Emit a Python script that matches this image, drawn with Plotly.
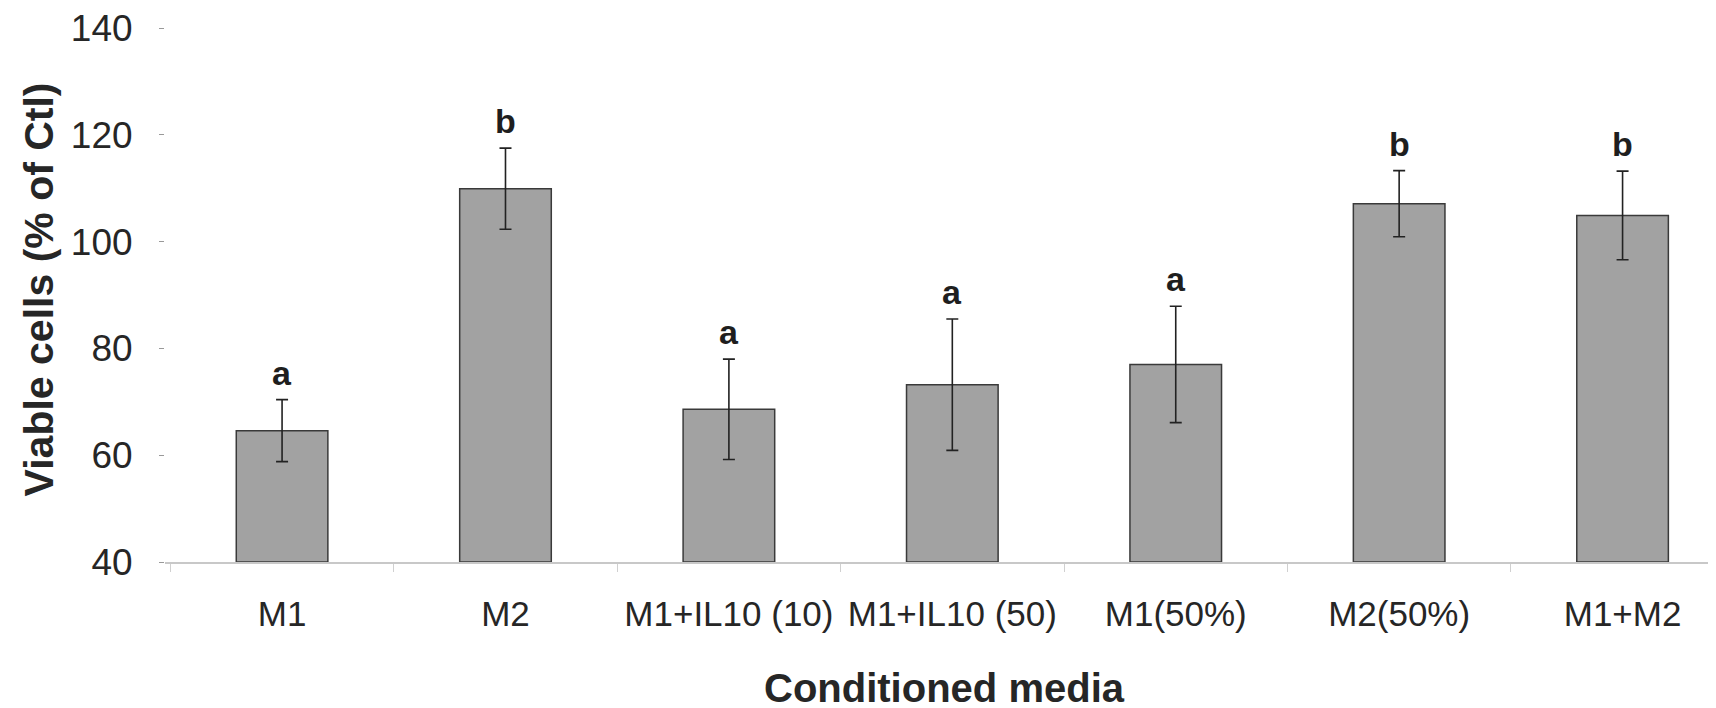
import plotly.graph_objects as go

categories = ["M1", "M2", "M1+IL10 (10)", "M1+IL10 (50)", "M1(50%)", "M2(50%)", "M1+M2"]
values = [64.6, 109.9, 68.6, 73.2, 77.0, 107.1, 104.9]
errors = [5.8, 7.6, 9.4, 12.3, 10.9, 6.2, 8.3]
letters = ["a", "b", "a", "a", "a", "b", "b"]
y_ticks = [40, 60, 80, 100, 120, 140]

fig = go.Figure()
fig.add_trace(go.Bar(
    x=categories, y=[v - 40 for v in values], base=40,
    marker=dict(color="#a2a2a2", line=dict(color="#3a3a3a", width=1.5)),
    error_y=dict(type="data", array=errors, visible=True, color="#222222", thickness=1.6, width=6),
    width=0.41, showlegend=False,
))
# carrier for the labelled left axis
fig.add_trace(go.Scatter(x=[categories[0]], y=[40], yaxis="y2", mode="markers",
                         marker=dict(opacity=0), hoverinfo="skip", showlegend=False))

for c, v, e, l in zip(categories, values, errors, letters):
    fig.add_annotation(x=c, y=v + e, text=l, showarrow=False, yanchor="bottom", yshift=6,
                       font=dict(family="Liberation Sans, Arial", size=34, color="#1e1e1e", weight="bold"))

fig.add_annotation(xref="paper", yref="paper", x=0.5, y=-0.236, xanchor="center", yanchor="middle",
                   text="Conditioned media", showarrow=False,
                   font=dict(family="Liberation Sans, Arial", size=40, color="#262626", weight="bold"))
fig.add_annotation(xref="paper", yref="paper", x=-0.081, y=0.51, xanchor="center", yanchor="middle",
                   text="Viable cells (% of Ctl)", textangle=-90, showarrow=False,
                   font=dict(family="Liberation Sans, Arial", size=41, color="#262626", weight="bold"))

fig.update_layout(
    width=1716, height=708,
    margin=dict(l=157, r=0, t=20, b=154),
    paper_bgcolor="white", plot_bgcolor="white",
    font=dict(family="Liberation Sans, Arial", color="#262626"),
    xaxis=dict(
        type="category", range=[-0.524, 6.454],
        showline=True, linecolor="#c8c8c8", linewidth=1.5,
        ticks="outside", tickson="boundaries", ticklen=8, tickcolor="#d0d0d0",
        tickfont=dict(size=35, color="#262626"), ticklabelstandoff=20,
        showgrid=False, zeroline=False,
    ),
    yaxis=dict(
        range=[40, 140], tickvals=y_ticks, showline=False, showgrid=False, zeroline=False,
        ticks="outside", ticklen=5, tickcolor="#999999", showticklabels=False,
    ),
    yaxis2=dict(
        overlaying="y", side="left", range=[40, 140], tickvals=y_ticks,
        showline=False, showgrid=False, zeroline=False,
        ticks="outside", ticklen=24, tickcolor="rgba(0,0,0,0)", ticklabeloverflow="allow",
        tickfont=dict(size=37, color="#262626"), automargin=False,
    ),
)

fig.write_html("out.html")
